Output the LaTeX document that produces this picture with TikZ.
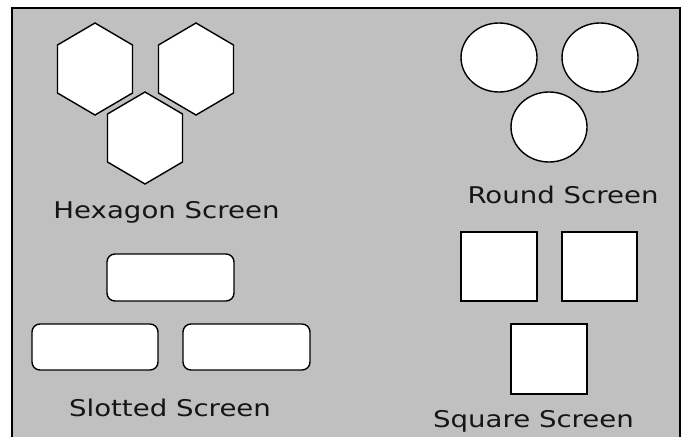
\documentclass[tikz,border=0pt]{standalone}
\usepackage{fontspec}
\newfontfamily\lblfont[FakeStretch=1.2]{DejaVu Sans}
\definecolor{panelgray}{HTML}{C0C0C0}
\definecolor{textgray}{HTML}{151515}
\tikzset{
  shapeline/.style={draw=black, fill=white, line width=1.4pt},
  lbl/.style={anchor=base, inner sep=0pt, text=textgray, font=\lblfont\fontsize{23}{25}\selectfont},
  hexa/.pic={\path[shapeline] (0,-46) -- (37.5,-24) -- (37.5,24) -- (0,46) -- (-37.5,24) -- (-37.5,-24) -- cycle;}
}
\begin{document}
\begin{tikzpicture}[x=1pt,y=-1pt]
\useasboundingbox (0,0) rectangle (687,436);
\clip (0,0) rectangle (687,436);
\draw[fill=panelgray, line width=2pt] (12,8) rectangle (680,450);
% hexagons
\pic at (95,69) {hexa};
\pic at (196,69) {hexa};
\pic at (145,138) {hexa};
\node[lbl] (hexlbl) at (166.5,218) {Hexagon Screen};
% round
\path[shapeline] (499,57.5) ellipse [x radius=38, y radius=34.5];
\path[shapeline] (600,57.5) ellipse [x radius=38, y radius=34.5];
\path[shapeline] (549,127) ellipse [x radius=38, y radius=35];
\node[lbl] (roundlbl) at (563,203) {Round Screen};
% slotted
\path[shapeline, rounded corners=8pt] (107,254) rectangle (234,301);
\path[shapeline, rounded corners=8pt] (32,324) rectangle (158,370);
\path[shapeline, rounded corners=8pt] (183,324) rectangle (310,370);
\node[lbl] (slotlbl) at (170,416) {Slotted Screen};
% square
\path[shapeline] (461,232) rectangle (537,301);
\path[shapeline] (562,232) rectangle (637,301);
\path[shapeline] (511,324) rectangle (587,394);
\node[lbl] (sqlbl) at (533.5,427) {Square Screen};
\end{tikzpicture}
\end{document}
